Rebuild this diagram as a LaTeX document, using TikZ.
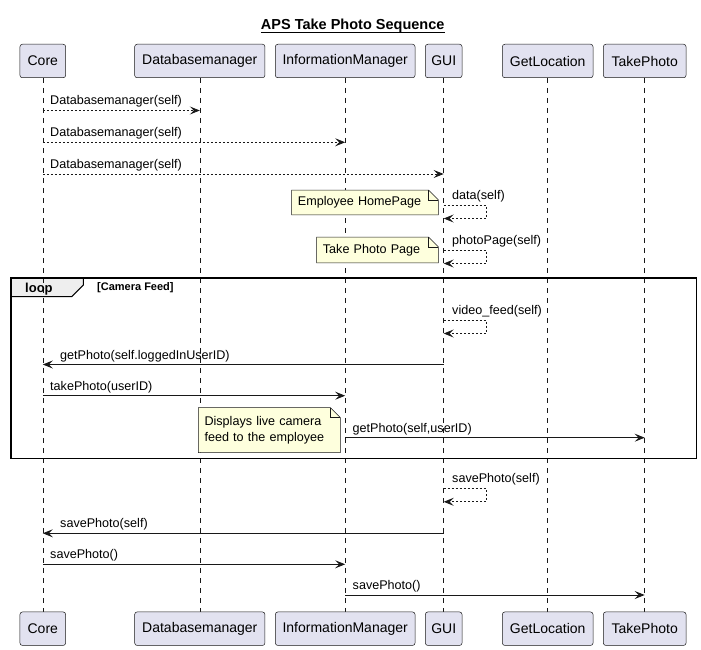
\documentclass[tikz,border=0pt]{standalone}
\usepackage{fontspec}
\setmainfont{Liberation Sans}
\usetikzlibrary{arrows.meta,calc}
\definecolor{ln}{HTML}{181818}
\definecolor{partfill}{HTML}{E2E2F0}
\definecolor{notefill}{HTML}{FEFFDD}
\definecolor{tabfill}{HTML}{EEEEEE}
\pgfdeclarelayer{bg}
\pgfdeclarelayer{nb}
\pgfsetlayers{bg,nb,main}
\begin{document}
\begin{tikzpicture}[x=1pt,y=-1pt,
  part/.style={draw=ln, fill=partfill, rounded corners=2.5pt, line width=0.5pt,
    minimum height=33.5pt, inner sep=0pt, font=\fontsize{14}{16}\selectfont},
  life/.style={draw=ln, line width=0.5pt, dash pattern=on 5pt off 5pt},
  msg/.style={draw=ln, line width=0.9pt, -{Stealth[length=10pt,width=8pt,inset=4pt]}},
  ret/.style={msg, dash pattern=on 2pt off 2pt},
  lbl/.style={anchor=base west, inner sep=0pt, font=\fontsize{12.6}{15}\selectfont},
  notetxt/.style={anchor=north west, inner xsep=6pt, inner ysep=0pt, align=left,
    font=\fontsize{12.6}{16}\selectfont},
  notebd/.style={draw=ln, line width=0.5pt, fill=notefill},
  fold/.style={draw=ln, line width=0.5pt}
]
\useasboundingbox (0,0) rectangle (701,650);

% title
\node[anchor=base, inner sep=0pt, font=\fontsize{14.5}{16}\selectfont\bfseries] (title) at (352.7,30) {APS Take Photo Sequence};
\draw[line width=0.9pt] ($(title.base west)+(0,2.5)$) -- ($(title.base east)+(0,2.5)$);

% loop frame
\begin{pgfonlayer}{bg}
\draw[line width=1pt, draw=black, fill=tabfill] (10.7,277.7) -- (83.3,277.7) -- (83.3,285) -- (71.7,296.7) -- (10.7,296.7) -- cycle;
\end{pgfonlayer}
\draw[line width=1.6pt, draw=black] (10.7,277.7) rectangle (696.5,458.5);
\node[anchor=base west, inner sep=0pt, font=\fontsize{13}{15}\selectfont\bfseries] (looplbl) at (25,292.7) {loop};
\node[anchor=base west, inner sep=0pt, font=\fontsize{11}{13}\selectfont\bfseries] (loopcond) at (97,290.7) {[Camera Feed]};

% participants
\foreach \nm/\x/\w/\t in {core/42.8/45.7/Core, db/199.8/130.3/Databasemanager, im/345.2/139.7/InformationManager, gui/443.7/36.7/GUI, gl/547.7/90.7/GetLocation, tp/644.7/82.7/TakePhoto}{
  \begin{pgfonlayer}{bg}
  \draw[life] (\x,78) -- (\x,612);
  \end{pgfonlayer}
  \node[part, minimum width=\w pt] (\nm T) at (\x,61) {\t};
  \node[part, minimum width=\w pt] (\nm B) at (\x,628.7) {\t};
}

% messages 1-3
\draw[ret] (coreT |- 0,110.5) -- (dbT |- 0,110.5);
\node[lbl] (m1) at (50,105) {Databasemanager(self)};
\draw[ret] (coreT |- 0,142.3) -- (imT |- 0,142.3);
\node[lbl] (m2) at (50,136.8) {Databasemanager(self)};
\draw[ret] (coreT |- 0,174) -- (guiT |- 0,174);
\node[lbl] (m3) at (50,168.5) {Databasemanager(self)};

% self message data(self)
\draw[ret] (guiT |- 0,205) -- (486,205) -- (486,218.5) -- (guiT |- 0,218.5);
\node[lbl] (m4) at (452,199.5) {data(self)};
\node[notetxt, text width=134.3pt, minimum height=24.5pt] (n1) at (291.7,190) {Employee HomePage};
\begin{pgfonlayer}{nb}
\draw[notebd] (n1.north west) -- ($(n1.north east)+(-10,0)$) -- ($(n1.north east)+(0,10)$) -- (n1.south east) -- (n1.south west) -- cycle;
\draw[fold] ($(n1.north east)+(-10,0)$) -- ($(n1.north east)+(-10,10)$) -- ($(n1.north east)+(0,10)$);
\end{pgfonlayer}

% self message photoPage(self)
\draw[ret] (guiT |- 0,250) -- (486,250) -- (486,263.5) -- (guiT |- 0,263.5);
\node[lbl] (m5) at (452,244.5) {photoPage(self)};
\node[notetxt, text width=109.3pt, minimum height=25.5pt] (n2) at (316.7,237) {Take Photo Page};
\begin{pgfonlayer}{nb}
\draw[notebd] (n2.north west) -- ($(n2.north east)+(-10,0)$) -- ($(n2.north east)+(0,10)$) -- (n2.south east) -- (n2.south west) -- cycle;
\draw[fold] ($(n2.north east)+(-10,0)$) -- ($(n2.north east)+(-10,10)$) -- ($(n2.north east)+(0,10)$);
\end{pgfonlayer}

% inside loop
\draw[ret] (guiT |- 0,320) -- (486,320) -- (486,333.5) -- (guiT |- 0,333.5);
\node[lbl] (m6) at (452,314.5) {video\_feed(self)};
\draw[msg] (guiT |- 0,364.5) -- (coreT |- 0,364.5);
\node[lbl] (m7) at (60,359) {getPhoto(self.loggedInUserID)};
\draw[msg] (coreT |- 0,395.7) -- (imT |- 0,395.7);
\node[lbl] (m8) at (50,390.2) {takePhoto(userID)};
\node[notetxt, text width=129.7pt, minimum height=44.6pt] (n3) at (198.3,407.7) {Displays live camera\\feed to the employee};
\begin{pgfonlayer}{nb}
\draw[notebd] (n3.north west) -- ($(n3.north east)+(-10,0)$) -- ($(n3.north east)+(0,10)$) -- (n3.south east) -- (n3.south west) -- cycle;
\draw[fold] ($(n3.north east)+(-10,0)$) -- ($(n3.north east)+(-10,10)$) -- ($(n3.north east)+(0,10)$);
\end{pgfonlayer}
\draw[msg] (imT |- 0,437.7) -- (tpT |- 0,437.7);
\node[lbl] (m9) at (352.5,432.2) {getPhoto(self,userID)};

% after loop
\draw[ret] (guiT |- 0,488.3) -- (486,488.3) -- (486,501.8) -- (guiT |- 0,501.8);
\node[lbl] (m10) at (452,482.8) {savePhoto(self)};
\draw[msg] (guiT |- 0,533.3) -- (coreT |- 0,533.3);
\node[lbl] (m11) at (60,527.8) {savePhoto(self)};
\draw[msg] (coreT |- 0,564.3) -- (imT |- 0,564.3);
\node[lbl] (m12) at (50,558.8) {savePhoto()};
\draw[msg] (imT |- 0,595) -- (tpT |- 0,595);
\node[lbl] (m13) at (352.5,589.5) {savePhoto()};
\end{tikzpicture}
\end{document}
